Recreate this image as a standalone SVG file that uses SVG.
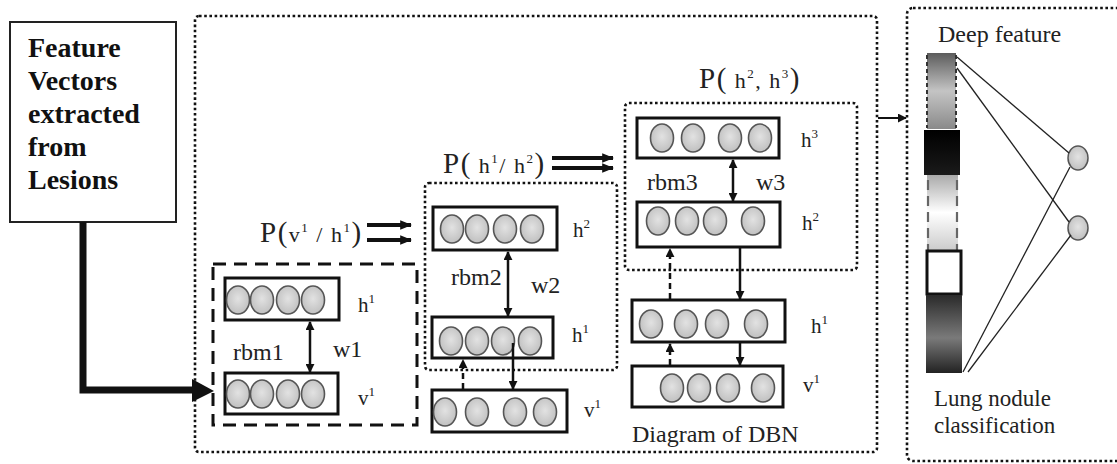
<svg xmlns="http://www.w3.org/2000/svg" width="1117" height="464" viewBox="0 0 1117 464">
<defs>
<style>
.dot{fill:none;stroke:#111;stroke-width:2.6;stroke-dasharray:2.6 2.6}
.dash{fill:none;stroke:#111;stroke-width:3;stroke-dasharray:13 8}
.layer{fill:#fff;stroke:#111;stroke-width:3}
.n{fill:url(#ng);stroke:#555;stroke-width:1.6}
.lbl{font-family:'Liberation Serif','Times New Roman','DejaVu Serif',serif;font-size:24px;fill:#222}
.sm{font-size:23px}
.hl{font-family:'Liberation Serif','Times New Roman','DejaVu Serif',serif;font-size:21px;fill:#222}
.sup{font-size:13px}
.big{font-family:'Liberation Serif','Times New Roman','DejaVu Serif',serif;font-size:29px;fill:#222;letter-spacing:1.5px}
.mid{font-size:22px}
.head{font-family:'Liberation Serif','Times New Roman','DejaVu Serif',serif;font-size:28px;font-weight:bold;fill:#111}
.ar{fill:none;stroke:#111;stroke-width:2.5}
.ard{fill:none;stroke:#111;stroke-width:2.5;stroke-dasharray:6 4}
.thin{fill:none;stroke:#222;stroke-width:1.3}
</style>
<radialGradient id="ng" cx="0.5" cy="0.45" r="0.6">
<stop offset="0" stop-color="#e2e2e2"/>
<stop offset="1" stop-color="#bdbdbd"/>
</radialGradient>
<linearGradient id="g1" x1="0" y1="0" x2="0" y2="1">
<stop offset="0" stop-color="#5c5c5c"/>
<stop offset="0.5" stop-color="#c4c4c4"/>
<stop offset="1" stop-color="#8a8a8a"/>
</linearGradient>
<linearGradient id="g2" x1="0" y1="0" x2="0" y2="1">
<stop offset="0" stop-color="#000"/>
<stop offset="1" stop-color="#1a1a1a"/>
</linearGradient>
<linearGradient id="g3" x1="0" y1="0" x2="0" y2="1">
<stop offset="0" stop-color="#aaa"/>
<stop offset="0.5" stop-color="#fff"/>
<stop offset="1" stop-color="#ccc"/>
</linearGradient>
<linearGradient id="g4" x1="0" y1="0" x2="0" y2="1">
<stop offset="0" stop-color="#2a2a2a"/>
<stop offset="0.55" stop-color="#7a7a7a"/>
<stop offset="1" stop-color="#222"/>
</linearGradient>
<marker id="ah" viewBox="0 0 10 10" refX="9" refY="5" markerWidth="9" markerHeight="9" markerUnits="userSpaceOnUse" orient="auto-start-reverse">
<path d="M0,0 L10,5 L0,10 z" fill="#111"/>
</marker>
<marker id="ahb" viewBox="0 0 10 10" refX="9" refY="5" markerWidth="12" markerHeight="12" markerUnits="userSpaceOnUse" orient="auto">
<path d="M0,1 L10,5 L0,9 z" fill="#111"/>
</marker>
</defs>
<rect width="1117" height="464" fill="#fff"/>

<g id="main-frame"><rect class="dot" x="195" y="16" width="682" height="436" rx="4"/></g>
<g id="output-frame"><rect class="dot" x="907" y="8" width="220" height="453" rx="6"/></g>

<g id="input">
<rect x="10" y="22" width="166" height="200" fill="#fff" stroke="#222" stroke-width="2"/>
<text class="head" x="28" y="57">Feature</text>
<text class="head" x="28" y="90">Vectors</text>
<text class="head" x="28" y="123">extracted</text>
<text class="head" x="28" y="156">from</text>
<text class="head" x="28" y="189">Lesions</text>
</g>

<g id="rbm1">
<rect class="dash" x="213" y="264" width="204" height="161"/>
<rect class="layer" x="225" y="278" width="114" height="42"/>
<ellipse class="n" cx="238" cy="300" rx="11.5" ry="14"/>
<ellipse class="n" cx="262" cy="300" rx="11.5" ry="14"/>
<ellipse class="n" cx="288" cy="300" rx="11.5" ry="14"/>
<ellipse class="n" cx="313" cy="300" rx="11.5" ry="14"/>
<text class="hl" x="358" y="312">h<tspan class="sup" dy="-9">1</tspan></text>
<rect class="layer" x="225" y="373" width="113" height="41"/>
<ellipse class="n" cx="238" cy="394" rx="11.5" ry="14"/>
<ellipse class="n" cx="262" cy="394" rx="11.5" ry="14"/>
<ellipse class="n" cx="288" cy="394" rx="11.5" ry="14"/>
<ellipse class="n" cx="313" cy="394" rx="11.5" ry="14"/>
<text class="hl" x="358" y="405">v<tspan class="sup" dy="-9">1</tspan></text>
<text class="lbl" x="233" y="360">rbm1</text>
<text class="lbl" x="333" y="357">w1</text>
</g>

<g id="rbm2">
<rect class="dot" x="425" y="183" width="192" height="187" rx="4"/>
<rect class="layer" x="433" y="207" width="124" height="43"/>
<ellipse class="n" cx="452" cy="229" rx="11.5" ry="14"/>
<ellipse class="n" cx="477" cy="229" rx="11.5" ry="14"/>
<ellipse class="n" cx="505" cy="229" rx="11.5" ry="14"/>
<ellipse class="n" cx="532" cy="229" rx="11.5" ry="14"/>
<text class="hl" x="573" y="237">h<tspan class="sup" dy="-9">2</tspan></text>
<rect class="layer" x="432" y="317" width="121" height="41"/>
<ellipse class="n" cx="451" cy="341" rx="11.5" ry="14"/>
<ellipse class="n" cx="477" cy="341" rx="11.5" ry="14"/>
<ellipse class="n" cx="503" cy="341" rx="11.5" ry="14"/>
<ellipse class="n" cx="530" cy="341" rx="11.5" ry="14"/>
<text class="hl" x="572" y="342">h<tspan class="sup" dy="-9">1</tspan></text>
<text class="lbl" x="451" y="285">rbm2</text>
<text class="lbl" x="531" y="293">w2</text>
</g>

<g id="v1-rbm2">
<rect class="layer" x="432" y="390" width="135" height="42"/>
<ellipse class="n" cx="445" cy="412" rx="11.5" ry="14"/>
<ellipse class="n" cx="477" cy="412" rx="11.5" ry="14"/>
<ellipse class="n" cx="515" cy="412" rx="11.5" ry="14"/>
<ellipse class="n" cx="545" cy="412" rx="11.5" ry="14"/>
<text class="hl" x="584" y="417">v<tspan class="sup" dy="-9">1</tspan></text>
</g>

<g id="rbm3">
<rect class="dot" x="625" y="103" width="232" height="167" rx="4"/>
<rect class="layer" x="637" y="118" width="142" height="40"/>
<ellipse class="n" cx="662" cy="138" rx="11.5" ry="14"/>
<ellipse class="n" cx="693" cy="138" rx="11.5" ry="14"/>
<ellipse class="n" cx="730" cy="138" rx="11.5" ry="14"/>
<ellipse class="n" cx="760" cy="138" rx="11.5" ry="14"/>
<text class="hl" x="801" y="147">h<tspan class="sup" dy="-9">3</tspan></text>
<rect class="layer" x="637" y="202" width="143" height="45"/>
<ellipse class="n" cx="658" cy="221" rx="11.5" ry="14"/>
<ellipse class="n" cx="687" cy="221" rx="11.5" ry="14"/>
<ellipse class="n" cx="715" cy="221" rx="11.5" ry="14"/>
<ellipse class="n" cx="753" cy="221" rx="11.5" ry="14"/>
<text class="hl" x="802" y="230">h<tspan class="sup" dy="-9">2</tspan></text>
<text class="lbl" x="647" y="190">rbm3</text>
<text class="lbl" x="756" y="190">w3</text>
</g>

<g id="dbn-h1">
<rect class="layer" x="632" y="300" width="153" height="42"/>
<ellipse class="n" cx="651" cy="324" rx="11.5" ry="14"/>
<ellipse class="n" cx="686" cy="324" rx="11.5" ry="14"/>
<ellipse class="n" cx="717" cy="324" rx="11.5" ry="14"/>
<ellipse class="n" cx="756" cy="324" rx="11.5" ry="14"/>
<text class="hl" x="811" y="333">h<tspan class="sup" dy="-9">1</tspan></text>
</g>
<g id="dbn-v1">
<rect class="layer" x="632" y="366" width="151" height="41"/>
<ellipse class="n" cx="672" cy="388" rx="11.5" ry="14"/>
<ellipse class="n" cx="699" cy="388" rx="11.5" ry="14"/>
<ellipse class="n" cx="728" cy="388" rx="11.5" ry="14"/>
<ellipse class="n" cx="763" cy="388" rx="11.5" ry="14"/>
<text class="hl" x="803" y="392">v<tspan class="sup" dy="-9">1</tspan></text>
</g>
<g id="dbn-caption"><text class="lbl" x="632" y="442">Diagram of DBN</text></g>

<g id="p-v1h1"><text class="big" x="260" y="242">P(<tspan class="mid">v<tspan class="sup" dy="-10">1</tspan><tspan dy="10"> / h</tspan><tspan class="sup" dy="-10">1</tspan></tspan><tspan dy="10">)</tspan></text></g>
<g id="p-h1h2"><text class="big" x="443" y="173">P(<tspan class="mid"> h<tspan class="sup" dy="-10">1</tspan><tspan dy="10">/ h</tspan><tspan class="sup" dy="-10">2</tspan></tspan><tspan dy="10">)</tspan></text></g>
<g id="p-h2h3"><text class="big" x="699" y="88">P(<tspan class="mid"> h<tspan class="sup" dy="-10">2</tspan><tspan dy="10">, h</tspan><tspan class="sup" dy="-10">3</tspan></tspan><tspan dy="10">)</tspan></text></g>

<g id="deep-feature">
<text class="lbl" x="938" y="42">Deep feature</text>
<rect x="927" y="53" width="29" height="76" fill="url(#g1)"/>
<path d="M927,55 V128 M956,55 V128" fill="none" stroke="#333" stroke-width="2" stroke-dasharray="4 3"/>
<rect x="924" y="130" width="36" height="45" fill="url(#g2)"/>
<rect x="927" y="175" width="31" height="75" fill="url(#g3)"/>
<path d="M928,180 V250 M957,180 V250" fill="none" stroke="#666" stroke-width="2.2" stroke-dasharray="10 6"/>
<rect x="927" y="251" width="34" height="43" fill="#fff" stroke="#111" stroke-width="3"/>
<rect x="926" y="295" width="36" height="78" fill="url(#g4)"/>
</g>
<g id="out1"><ellipse cx="1078" cy="158" rx="10" ry="12" fill="url(#ng)" stroke="#555" stroke-width="1.5"/></g>
<g id="out2"><ellipse cx="1078" cy="228" rx="10" ry="12" fill="url(#ng)" stroke="#555" stroke-width="1.5"/></g>
<g id="out-label"><text class="lbl sm" x="934" y="406">Lung nodule</text><text class="lbl sm" x="934" y="433">classification</text></g>

<g id="connectors">
<path d="M83,222 V390 H196" fill="none" stroke="#111" stroke-width="7" stroke-linejoin="miter"/>
<path d="M192,379 L214,391 L192,402 z" fill="#111"/>
<line class="ar" x1="310" y1="322" x2="310" y2="372" marker-start="url(#ah)" marker-end="url(#ah)"/>
<line class="ar" x1="508" y1="252" x2="508" y2="316" marker-start="url(#ah)" marker-end="url(#ah)"/>
<line class="ar" x1="733" y1="160" x2="733" y2="201" marker-start="url(#ah)" marker-end="url(#ah)"/>
<line class="ard" x1="463" y1="389" x2="463" y2="360" marker-end="url(#ah)"/>
<line class="ar" x1="513" y1="343" x2="513" y2="389" marker-end="url(#ah)"/>
<line class="ard" x1="670" y1="299" x2="670" y2="249" marker-end="url(#ah)"/>
<line class="ar" x1="740" y1="248" x2="740" y2="299" marker-end="url(#ah)"/>
<line class="ard" x1="670" y1="365" x2="670" y2="344" marker-end="url(#ah)"/>
<line class="ar" x1="740" y1="342" x2="740" y2="365" marker-end="url(#ah)"/>
<line x1="367" y1="225" x2="411" y2="225" stroke="#111" stroke-width="4" marker-end="url(#ahb)"/>
<line x1="367" y1="240" x2="411" y2="240" stroke="#111" stroke-width="4" marker-end="url(#ahb)"/>
<line x1="552" y1="158" x2="613" y2="158" stroke="#111" stroke-width="4" marker-end="url(#ahb)"/>
<line x1="552" y1="168" x2="613" y2="168" stroke="#111" stroke-width="4" marker-end="url(#ahb)"/>
<line x1="878" y1="118" x2="906" y2="118" stroke="#111" stroke-width="2" marker-end="url(#ah)"/>
<line class="thin" x1="957" y1="57" x2="1069" y2="153"/>
<line class="thin" x1="957" y1="68" x2="1069" y2="222"/>
<line class="thin" x1="963" y1="372" x2="1070" y2="167"/>
<line class="thin" x1="968" y1="372" x2="1071" y2="235"/>
</g>
</svg>
